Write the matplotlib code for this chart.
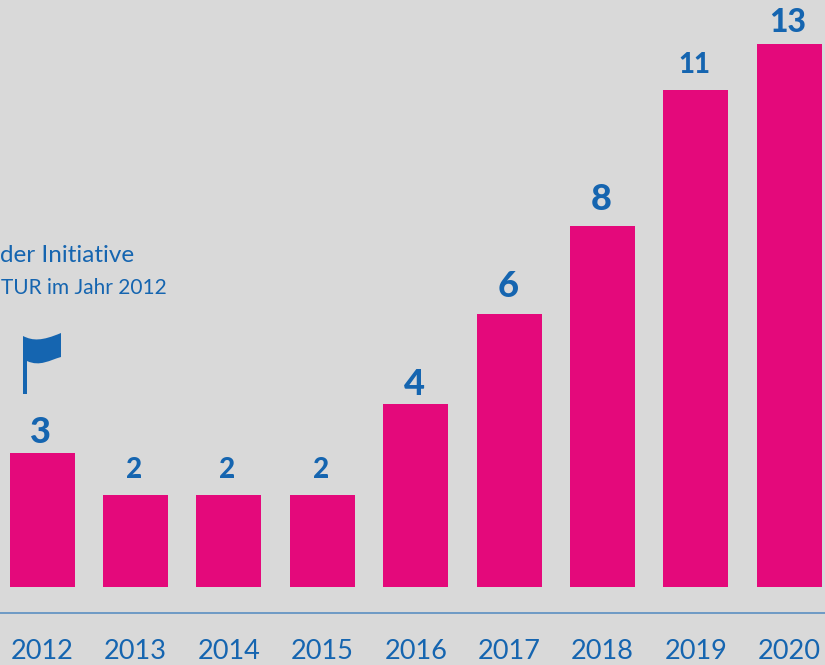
import matplotlib
matplotlib.use("Agg")
import matplotlib.pyplot as plt
from matplotlib.path import Path
from matplotlib.patches import PathPatch
from matplotlib.transforms import Affine2D

years = ["2012", "2013", "2014", "2015", "2016", "2017", "2018", "2019", "2020"]
bar_heights = [2.95, 2.02, 2.02, 2.02, 4.02, 6.02, 7.95, 10.97, 11.98]
value_labels = ["3", "2", "2", "2", "4", "6", "8", "11", "13"]
label_sizes = [26, 20, 20, 20, 26, 26, 26, 20, 23]
label_offsets_px = [20, 25, 25, 25, 20, 27, 27, 25, 21]
note_lines = ["der Initiative", "TUR im Jahr 2012"]
note_sizes = [17.5, 15]

BG, PINK, BLUE, RULE = "#d9d9d9", "#e4097b", "#1565b0", "#5b8fc2"
W, H = 825, 665
plt.rcParams["font.family"] = ["Lato", "DejaVu Sans"]

fig = plt.figure(figsize=(W / 100, H / 100), dpi=100, facecolor=BG)
ax = fig.add_axes([0, (H - 612.7) / H, 1, 612.7 / H], facecolor=BG)
sx, sy = 93.375, 45.3
ax.set_xlim(-42.2 / sx, (W - 42.2) / sx)
ax.set_ylim(-26.2 / sy, 586.5 / sy)
xs = list(range(len(years)))
ax.bar(xs, bar_heights, width=65 / sx, color=PINK, linewidth=0)

for x, h, lab, fs, off in zip(xs, bar_heights, value_labels, label_sizes, label_offsets_px):
    ax.annotate(lab, (x, h), xytext=(-1, off * 0.72), textcoords="offset points",
                ha="center", va="center", color=BLUE, fontsize=fs, fontweight="black")

for s in ("top", "left", "right"):
    ax.spines[s].set_visible(False)
ax.spines["bottom"].set_color(RULE)
ax.spines["bottom"].set_linewidth(1.2)
ax.set_yticks([])
ax.set_xticks(xs, years)
ax.tick_params(axis="x", length=0, pad=19, labelsize=19.5, labelcolor=BLUE)

# note text at the left edge
for ypx, xpx, line, fs in zip((256, 288), (134, 167), note_lines, note_sizes):
    fig.text(xpx / W, 1 - ypx / H, line, color=BLUE, fontsize=fs, ha="right", va="center")

# flag icon, in figure pixels with y measured from the top
verts = [(23, 336), (33, 341), (42, 341), (61, 333), (61, 357),
         (50, 360), (40, 367), (27, 361), (27, 394), (23, 394), (23, 336)]
codes = [Path.MOVETO, Path.CURVE4, Path.CURVE4, Path.CURVE4, Path.LINETO,
         Path.CURVE4, Path.CURVE4, Path.CURVE4, Path.LINETO, Path.LINETO, Path.CLOSEPOLY]
flip = Affine2D().scale(1, -1).translate(0, H)
fig.add_artist(PathPatch(Path(verts, codes), transform=flip, facecolor=BLUE, edgecolor="none"))

fig.savefig("out.png", dpi=100, facecolor=BG)
